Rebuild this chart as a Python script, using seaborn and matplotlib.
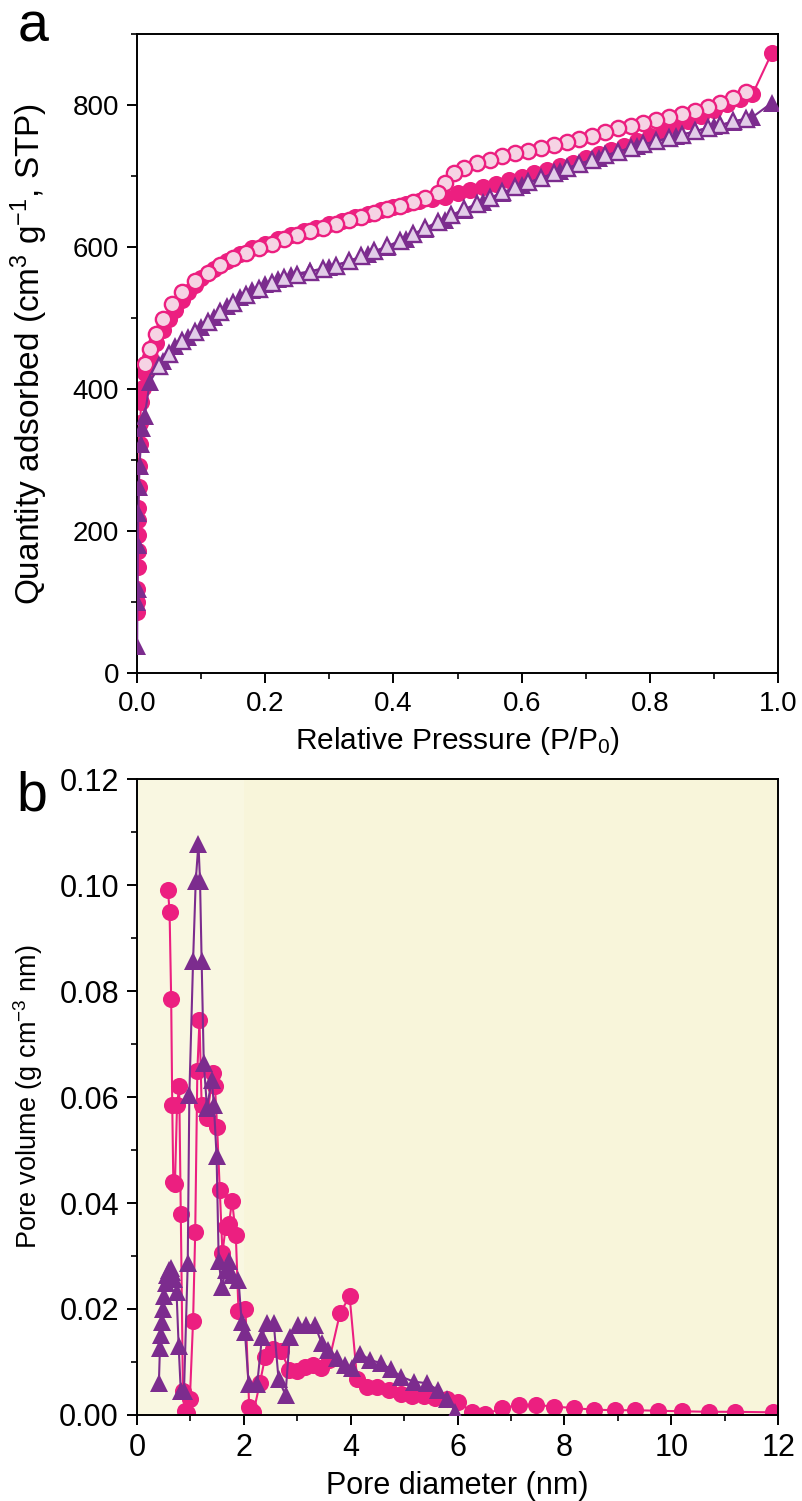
import matplotlib
matplotlib.use('Agg')
import matplotlib.pyplot as plt
from matplotlib.ticker import MultipleLocator, FormatStrFormatter
import seaborn as sns

# --- data ---
# (a) N2 isotherms: pink = sample 1, purple = sample 2
pink_ads_p = [0.0003, 0.0005, 0.0007, 0.0009, 0.0011, 0.0014, 0.0017, 0.0021, 0.0026, 0.0032,
              0.004, 0.005, 0.0065, 0.009, 0.013, 0.02, 0.03, 0.04, 0.05, 0.06,
              0.07, 0.08, 0.09, 0.10, 0.12, 0.14, 0.16, 0.18, 0.20, 0.22,
              0.24, 0.26, 0.28, 0.30, 0.32, 0.34, 0.36, 0.38, 0.40, 0.42,
              0.44, 0.46, 0.48, 0.50, 0.52, 0.54, 0.56, 0.58, 0.60, 0.62,
              0.64, 0.66, 0.68, 0.70, 0.72, 0.74, 0.76, 0.78, 0.80, 0.82,
              0.84, 0.86, 0.88, 0.90, 0.92, 0.94, 0.96, 0.99]
pink_ads_q = [86, 100, 118, 150, 172, 195, 215, 232, 262, 292,
              322, 352, 382, 402, 422, 445, 465, 483, 498, 512,
              525, 537, 547, 556, 569, 580, 590, 598, 605, 611,
              617, 622, 627, 632, 637, 642, 647, 652, 657, 661,
              665, 668, 671, 676, 681, 685, 689, 694, 699, 704,
              709, 714, 719, 726, 731, 737, 743, 750, 757, 764,
              771, 778, 785, 793, 801, 808, 815, 873]

pink_des_p = [0.95, 0.93, 0.91, 0.89, 0.87, 0.85, 0.83, 0.81, 0.79, 0.77,
              0.75, 0.73, 0.71, 0.69, 0.67, 0.65, 0.63, 0.61, 0.59, 0.57,
              0.55, 0.53, 0.51, 0.495, 0.48, 0.47, 0.45, 0.43, 0.41, 0.39,
              0.37, 0.35, 0.33, 0.31, 0.29, 0.27, 0.25, 0.23, 0.21, 0.19,
              0.17, 0.15, 0.13, 0.11, 0.09, 0.07, 0.055, 0.04, 0.03, 0.02, 0.012]
pink_des_q = [818, 810, 803, 797, 792, 787, 783, 779, 775, 771,
              767, 762, 757, 752, 748, 744, 740, 736, 732, 728,
              723, 718, 712, 705, 690, 676, 669, 663, 658, 653,
              648, 643, 638, 632, 627, 622, 617, 611, 605, 599,
              592, 584, 575, 564, 552, 537, 520, 498, 478, 456, 436]

purple_ads_p = [0.0003, 0.0006, 0.001, 0.0015, 0.002, 0.003, 0.004, 0.006, 0.008, 0.012,
                0.02, 0.04, 0.06, 0.08, 0.10, 0.12, 0.14, 0.16, 0.18, 0.20,
                0.22, 0.24, 0.27, 0.30, 0.33, 0.36, 0.39, 0.42, 0.45, 0.48,
                0.51, 0.54, 0.57, 0.60, 0.63, 0.66, 0.69, 0.72, 0.75, 0.78,
                0.81, 0.84, 0.87, 0.90, 0.93, 0.96, 0.99]
purple_ads_q = [38, 100, 118, 180, 225, 262, 292, 322, 345, 362,
                410, 440, 460, 474, 488, 502, 517, 530, 540, 548,
                555, 561, 566, 572, 580, 590, 600, 612, 626, 638,
                652, 664, 676, 687, 697, 707, 717, 726, 734, 742,
                749, 756, 763, 770, 776, 783, 803]

purple_des_p = [0.95, 0.93, 0.91, 0.89, 0.87, 0.85, 0.83, 0.81, 0.79, 0.77,
                0.75, 0.73, 0.71, 0.69, 0.67, 0.65, 0.63, 0.61, 0.59, 0.57,
                0.55, 0.53, 0.51, 0.49, 0.47, 0.45, 0.43, 0.41, 0.39, 0.37,
                0.35, 0.33, 0.31, 0.29, 0.27, 0.25, 0.23, 0.21, 0.19, 0.17,
                0.15, 0.13, 0.11, 0.09, 0.07, 0.05, 0.035]
purple_des_q = [781, 777, 772, 768, 763, 758, 754, 749, 745, 740,
                734, 729, 723, 717, 711, 704, 697, 691, 684, 677,
                669, 661, 653, 645, 636, 627, 618, 609, 601, 594,
                587, 580, 574, 569, 565, 560, 556, 549, 541, 532,
                521, 508, 494, 481, 467, 450, 432]

# (b) pore size distributions
pink_d = [0.58, 0.61, 0.64, 0.66, 0.68, 0.71, 0.75, 0.79, 0.82, 0.86,
          0.90, 0.94, 0.99, 1.05, 1.09, 1.13, 1.17, 1.21, 1.31, 1.42,
          1.46, 1.50, 1.55, 1.60, 1.66, 1.72, 1.78, 1.85, 1.90, 2.03,
          2.10, 2.18, 2.30, 2.40, 2.55, 2.70, 2.85, 3.00, 3.15, 3.30,
          3.45, 3.60, 3.80, 3.98, 4.12, 4.30, 4.50, 4.72, 4.95, 5.15,
          5.37, 5.58, 5.80, 6.00, 6.27, 6.52, 6.83, 7.15, 7.46, 7.80,
          8.18, 8.55, 8.95, 9.33, 9.75, 10.2, 10.7, 11.2, 11.9]
pink_v = [0.099, 0.095, 0.0785, 0.0585, 0.044, 0.0435, 0.0585, 0.062, 0.038, 0.0045,
          0.0008, 0.0003, 0.003, 0.0178, 0.0345, 0.065, 0.0745, 0.0585, 0.056, 0.0645,
          0.062, 0.0543, 0.0424, 0.0306, 0.0355, 0.036, 0.0404, 0.034, 0.0196, 0.020,
          0.0016, 0.0005, 0.006, 0.011, 0.0125, 0.012, 0.0085, 0.0083, 0.009, 0.0095,
          0.0088, 0.0104, 0.0192, 0.0224, 0.0068, 0.0052, 0.0052, 0.0048, 0.004, 0.0036,
          0.0035, 0.0032, 0.003, 0.0025, 0.0006, 0.0001, 0.0013, 0.0019, 0.0019, 0.0016,
          0.0013, 0.001, 0.0009, 0.0009, 0.0008, 0.0007, 0.0006, 0.0006, 0.0005]

purple_d = [0.41, 0.43, 0.45, 0.47, 0.49, 0.51, 0.54, 0.57, 0.60, 0.63,
            0.66, 0.70, 0.74, 0.78, 0.82, 0.88, 0.95, 0.98, 1.05, 1.10,
            1.15, 1.18, 1.21, 1.25, 1.31, 1.40, 1.44, 1.49, 1.53, 1.59,
            1.66, 1.72, 1.78, 1.90, 1.96, 2.02, 2.09, 2.25, 2.34, 2.43,
            2.56, 2.65, 2.78, 2.86, 3.01, 3.17, 3.33, 3.46, 3.58, 3.74,
            3.90, 4.02, 4.18, 4.36, 4.56, 4.76, 4.95, 5.18, 5.42, 5.64,
            5.80, 5.96]
purple_v = [0.0061, 0.0127, 0.015, 0.0176, 0.020, 0.0224, 0.0249, 0.0265, 0.0273, 0.0278,
            0.027, 0.0257, 0.0233, 0.013, 0.0045, 0.0045, 0.0286, 0.0604, 0.0857, 0.1008,
            0.1078, 0.1008, 0.0857, 0.0665, 0.058, 0.0633, 0.0584, 0.0488, 0.029, 0.0241,
            0.0273, 0.029, 0.0265, 0.0255, 0.0176, 0.0157, 0.0058, 0.0058, 0.0148, 0.0173,
            0.0173, 0.0067, 0.0038, 0.0148, 0.0169, 0.0169, 0.0169, 0.0135, 0.0123, 0.0107,
            0.0095, 0.0088, 0.0116, 0.0104, 0.0098, 0.0086, 0.0072, 0.0063, 0.006, 0.0047,
            0.0031, 0.0006]

PINK = '#ec1f80'
PINK_LIGHT = '#f6d3e4'
PURPLE = '#7c2c8e'
PURPLE_LIGHT = '#e2cde8'

# --- style ---
sns.set_style('ticks')
plt.rcParams['font.family'] = ['Liberation Sans', 'DejaVu Sans']
plt.rcParams['mathtext.fontset'] = 'custom'
plt.rcParams['mathtext.rm'] = 'Liberation Sans'
plt.rcParams['mathtext.default'] = 'regular'
plt.rcParams['text.color'] = 'black'
plt.rcParams['axes.labelcolor'] = 'black'
plt.rcParams['xtick.color'] = 'black'
plt.rcParams['ytick.color'] = 'black'

fig = plt.figure(figsize=(8.02, 15.01), dpi=100)
ax1 = fig.add_axes([0.1708, 0.5516, 0.7994, 0.4257])
ax2 = fig.add_axes([0.1708, 0.0573, 0.7994, 0.4237])


def iso(ax, x, y, color, marker, face=None, z=2):
    kw = dict(color=color, marker=marker, lw=1.5, sort=False,
              estimator=None, ax=ax, zorder=z)
    if face is None:
        # no edge on filled markers, so bump the size to match the open ones
        kw.update(markersize=12.3, markeredgewidth=0, markerfacecolor=color)
    else:
        kw.update(markersize=11, markeredgewidth=1.7, markeredgecolor=color,
                  markerfacecolor=face)
    sns.lineplot(x=x, y=y, **kw)


# panel a
iso(ax1, pink_ads_p, pink_ads_q, PINK, 'o', z=2)
iso(ax1, pink_des_p, pink_des_q, PINK, 'o', face=PINK_LIGHT, z=3)
iso(ax1, purple_ads_p, purple_ads_q, PURPLE, '^', z=4)
iso(ax1, purple_des_p, purple_des_q, PURPLE, '^', face=PURPLE_LIGHT, z=5)

ax1.set_xlim(0, 1.0)
ax1.set_ylim(0, 900)
ax1.xaxis.set_major_locator(MultipleLocator(0.2))
ax1.xaxis.set_minor_locator(MultipleLocator(0.1))
ax1.yaxis.set_major_locator(MultipleLocator(200))
ax1.yaxis.set_minor_locator(MultipleLocator(100))
ax1.xaxis.set_major_formatter(FormatStrFormatter('%.1f'))
ax1.set_xlabel('Relative Pressure (P/P$_0$)', fontsize=21.5, labelpad=6)
ax1.set_ylabel('Quantity adsorbed (cm$^3$ g$^{-1}$, STP)', fontsize=24, labelpad=16)
ax1.tick_params(labelsize=20)

# panel b
ax2.set_facecolor('#f8f5da')
ax2.axvspan(0, 2, color='#f9f7e1', lw=0, zorder=0)
iso(ax2, pink_d, pink_v, PINK, 'o', z=2)
iso(ax2, purple_d, purple_v, PURPLE, '^', z=3)

ax2.set_xlim(0, 12)
ax2.set_ylim(0, 0.12)
ax2.xaxis.set_major_locator(MultipleLocator(2))
ax2.xaxis.set_minor_locator(MultipleLocator(1))
ax2.yaxis.set_major_locator(MultipleLocator(0.02))
ax2.yaxis.set_minor_locator(MultipleLocator(0.01))
ax2.yaxis.set_major_formatter(FormatStrFormatter('%.2f'))
ax2.set_xlabel('Pore diameter (nm)', fontsize=22, labelpad=6)
ax2.set_ylabel('Pore volume (g cm$^{-3}$ nm)', fontsize=19.5, labelpad=10)
ax2.tick_params(labelsize=22)

for ax in (ax1, ax2):
    for s in ax.spines.values():
        s.set_visible(True)
        s.set_color('black')
        s.set_linewidth(1.4)
    ax.tick_params(which='major', direction='out', length=7, width=1.4, pad=6,
                   top=False, right=False, colors='black')
    ax.tick_params(which='minor', direction='out', length=4, width=1.2,
                   top=False, right=False)
    ax.grid(False)

fig.text(0.022, 0.999, 'a', fontsize=40, va='top', ha='left')
fig.text(0.020, 0.487, 'b', fontsize=40, va='top', ha='left')

fig.savefig('out.png', dpi=100)
